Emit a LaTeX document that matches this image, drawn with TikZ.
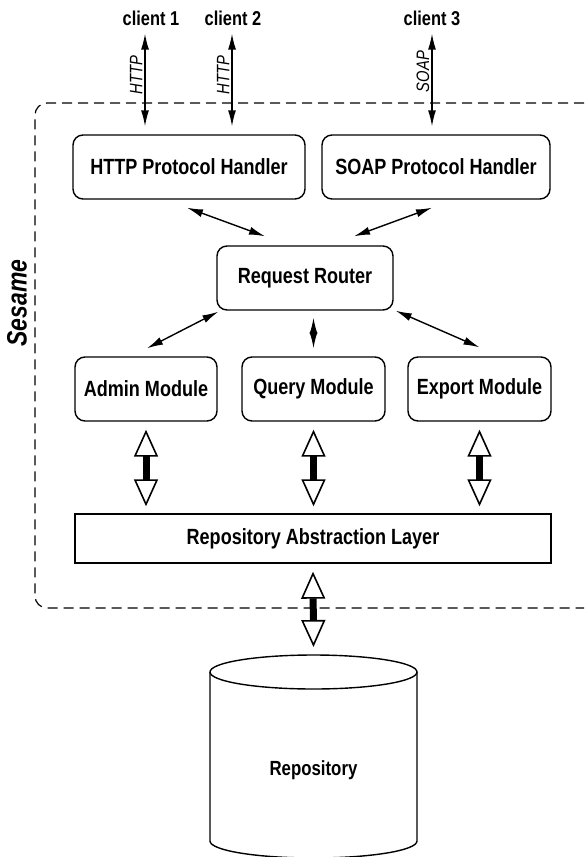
\documentclass[tikz,border=0pt]{standalone}
\usepackage{fontspec}
\setmainfont{Liberation Sans}[FakeStretch=0.82]
\usepackage{tikz}
\usetikzlibrary{calc,arrows.meta,positioning}

\begin{document}
\begin{tikzpicture}[x=0.5pt,y=-0.5pt,
  box/.style={draw, line width=0.7pt, rounded corners=5pt, inner sep=0pt,
    minimum height=32pt, font=\fontsize{11}{13}\selectfont\bfseries},
  dbl/.style={line width=0.7pt,
    {Latex[length=8pt,width=4pt]}-{Latex[length=8pt,width=4pt]}},
  fat/.style={line width=3.5pt,
    {Triangle[length=13.5pt,width=12pt,line width=0.8pt,fill=white]}-{Triangle[length=13.5pt,width=12pt,line width=0.8pt,fill=white]}},
  client/.style={anchor=base, inner sep=0pt, font=\fontsize{10}{12}\selectfont\bfseries},
  proto/.style={anchor=south, rotate=90, inner sep=1pt, font=\fontsize{9}{10}\selectfont\itshape}]

\clip (0,0) rectangle (584,857);

%%%%%%%%%%%%%%%
\draw[line width=0.6pt, dash pattern=on 5pt off 3pt, rounded corners=6pt]
  (600,103) -- (35,103) -- (35,608) -- (600,608);
\node[rotate=90, font=\fontsize{14}{16}\selectfont\bfseries\itshape] (sesame) at (17,303) {Sesame};

%%%%%%%%%%%%%%%
\node[client] (c1) at (151,25) {client 1};
\node[client] (c2) at (233,25) {client 2};
\node[client] (c3) at (432,25) {client 3};

\node[box, minimum width=116pt] (http) at (189,167) {HTTP Protocol Handler};
\node[box, minimum width=114pt] (soap) at (436,167) {SOAP Protocol Handler};

\node[box, minimum width=88pt] (router) at (305,278) {Request Router};

\node[box, minimum width=71pt] (admin) at (146,389) {Admin Module};
\node[box, minimum width=71.5pt] (query) at (313.5,389) {Query Module};
\node[box, minimum width=71.5pt] (export) at (479.5,389) {Export Module};

\node[box, rounded corners=0pt, minimum width=238pt, minimum height=24.5pt] (ral) at (313,538.5) {Repository Abstraction Layer};

%%%%%%%%%%%%%%%
\draw[dbl] ($(c1.south)+(-6,8)$) -- node[proto, pos=.45] {HTTP} ($(c1.south |- http.north)+(-6,-8)$);
\draw[dbl] ($(c2.south)+(-1,8)$) -- node[proto, pos=.45] {HTTP} ($(c2.south |- soap.north)+(-1,-8)$);
\draw[dbl] ($(c3.south)+(0,8)$) -- node[proto, pos=.41] {SOAP} ($(c3.south |- soap.north)+(0,-8)$);

\draw[dbl] ($(http.south)+(-2,8)$) -- ($(router.north)+(-40,-9)$);
\draw[dbl] ($(soap.south)+(-4,8)$) -- ($(router.north)+(49,-9)$);

\draw[dbl] ($(router.south west)+(2,1)$) -- ($(admin.north)+(1,-8)$);
\draw[dbl] ($(router.south -| query.north)+(0,7)$) -- ($(query.north)+(0,-8)$);
\draw[dbl] ($(router.south east)+(2,0)$) -- ($(export.north)+(0,-9)$);

\draw[fat] ($(admin.south)+(0,8)$) -- ($(admin.south |- ral.north)+(0,-7)$);
\draw[fat] ($(query.south)+(0,8)$) -- ($(query.south |- ral.north)+(0,-7)$);
\draw[fat] ($(export.south)+(0,8)$) -- ($(export.south |- ral.north)+(0,-7)$);

%%%%%%%%%%%%%%%
\coordinate (repotop) at (313.5,655);
\draw[line width=0.7pt] (210,672) -- (210,841) arc (180:0:103.5 and 17) -- (417,672);
\draw[line width=0.7pt] (313.5,672) ellipse (103.5 and 17);
\node[font=\fontsize{10.25}{12}\selectfont\bfseries] (repo) at (313.5,770) {Repository};

\draw[fat] ($(ral.south)+(0,8)$) -- ($(repotop)+(0,-8)$);

\end{tikzpicture}
\end{document}
